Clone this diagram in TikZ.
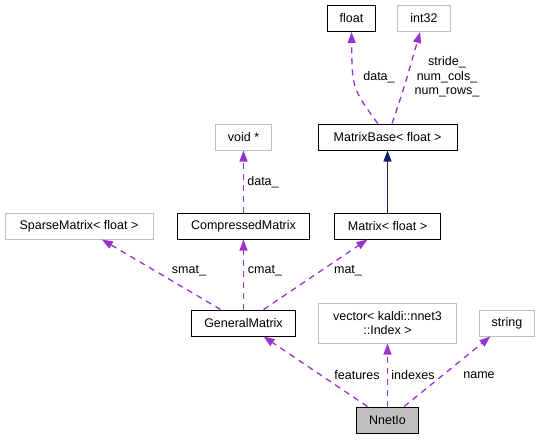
\documentclass[tikz,border=0pt]{standalone}
\usepackage{fontspec}
\setmainfont{Liberation Sans}
\usepackage{xcolor}
\usetikzlibrary{arrows.meta}
\definecolor{usecol}{HTML}{9A32CD}
\definecolor{inhcol}{HTML}{191970}
\definecolor{extcol}{HTML}{BFBFBF}

\begin{document}
\begin{tikzpicture}[x=1pt,y=-1pt,
    cls/.style={shape=rectangle, draw=black, fill=white, line width=1pt, inner xsep=12.5pt, minimum height=26pt, align=center, font=\fontsize{12.5}{14.5}\selectfont},
    ext/.style={cls, draw=extcol},
    self/.style={cls, fill=extcol},
    usage/.style={draw=usecol, line width=1.3pt, dash pattern=on 6pt off 5pt, -{Triangle[length=11pt,width=8pt]}},
    inherit/.style={draw=inhcol, line width=1.3pt, -{Triangle[length=11pt,width=8pt]}},
    lbl/.style={font=\fontsize{12.5}{14.5}\selectfont, align=center, inner sep=0pt}]
    \useasboundingbox (0,0) rectangle (540,439);

    \node[cls] (float) at (351.5,18.5) {float};
    \node[ext] (int32) at (424,18.5) {int32};
    \node[cls, minimum width=139pt] (matrixbase) at (387.5,137) {MatrixBase< float >};
    \node[ext] (void) at (243.5,137) {void *};
    \node[ext, minimum width=148pt] (sparse) at (79,226) {SparseMatrix< float >};
    \node[cls, minimum width=132pt] (compressed) at (243.5,226) {CompressedMatrix};
    \node[cls, minimum width=106pt] (matrix) at (387.5,226) {Matrix< float >};
    \node[cls] (general) at (243.5,323) {GeneralMatrix};
    \node[ext, minimum width=138pt, minimum height=40pt] (vector) at (387.5,323) {vector< kaldi::nnet3\\::Index >};
    \node[ext] (string) at (507,323) {string};
    \node[self] (nnetio) at (387.5,420) {NnetIo};

    \draw[usage] (matrixbase) .. controls (352,88) .. (float) node[lbl] at (379,77) {data\_};
    \draw[usage] (matrixbase) .. controls (404,88) .. (int32) node[lbl] at (447,77) {stride\_\\num\_cols\_\\num\_rows\_};
    \draw[inherit] (matrix) -- (matrixbase);
    \draw[usage] (compressed) -- (void) node[lbl] at (263,182) {data\_};
    \draw[usage] (general) -- (sparse) node[lbl] at (189,271) {smat\_};
    \draw[usage] (general) -- (compressed) node[lbl] at (265,271) {cmat\_};
    \draw[usage] (general) -- (matrix) node[lbl] at (348,271) {mat\_};
    \draw[usage] (nnetio) -- (general) node[lbl] at (357,375) {features};
    \draw[usage] (nnetio) -- (vector) node[lbl] at (413,375) {indexes};
    \draw[usage] (nnetio) -- (string) node[lbl] at (479,375) {name};
\end{tikzpicture}
\end{document}
